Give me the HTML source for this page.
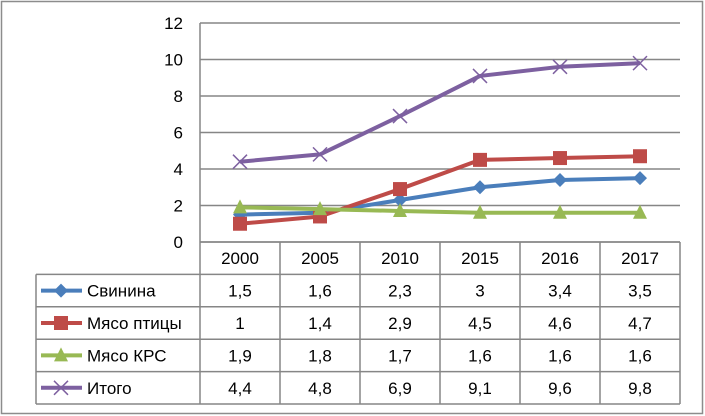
<!DOCTYPE html>
<html><head><meta charset="utf-8"><style>
body{margin:0;background:#fff;}
svg{display:block;font-family:"Liberation Sans",sans-serif;}
</style></head><body>
<svg width="705" height="416">
<rect x="1.5" y="1.5" width="701" height="412" fill="#fff" stroke="#8c8c8c" stroke-width="1.5"/>
<g id="grid"></g><g id="axes"></g><g id="table"></g><g id="series"></g>
</svg>
<script>
const categories=["2000","2005","2010","2015","2016","2017"];
const seriesNames=["Свинина","Мясо птицы","Мясо КРС","Итого"];
const svinina=[1.5,1.6,2.3,3,3.4,3.5];
const ptica=[1,1.4,2.9,4.5,4.6,4.7];
const krs=[1.9,1.8,1.7,1.6,1.6,1.6];
const itogo=[4.4,4.8,6.9,9.1,9.6,9.8];
const yTicks=[0,2,4,6,8,10,12];
const allSeries=[svinina,ptica,krs,itogo];
const colors=["#4a7ebb","#be4b48","#98b954","#7d60a0"];
const markers=["diamond","square","triangle","x"];
const NS="http://www.w3.org/2000/svg";
const L=200,R=680,T=23,B=242;
const colW=(R-L)/categories.length;
function xs(i){return L+colW*(i+0.5);}
function ys(v){return B-(v/12)*(B-T);}
function mk(tag,a,p){const e=document.createElementNS(NS,tag);for(const k in a)e.setAttribute(k,a[k]);p.appendChild(e);return e;}
const grid=document.getElementById('grid');
yTicks.forEach(t=>{
 const l=mk('line',{x1:L,x2:R,y1:ys(t),y2:ys(t),stroke:'#868686','stroke-width':1.5},grid);
 
 
 const tx=mk('text',{x:183,y:ys(t)+6,'text-anchor':'end','font-size':17,fill:'#000'},grid);
 tx.textContent=t;
 
 
});
const axes=document.getElementById('axes');
const ya=mk('line',{x1:L,x2:L,y1:T,y2:B,stroke:'#868686','stroke-width':1.5},axes);


const tb=document.getElementById('table');
const rowH=32.4, tL=36;
const tBot=B+rowH*5;
// horizontal lines
for(let r=0;r<=5;r++){
 const y=B+rowH*r;
 const l=mk('line',{x1:r==0?L:tL,x2:R,y1:y,y2:y,stroke:'#868686','stroke-width':1.5},tb);
 
 
}
for(let c=0;c<=categories.length;c++){
 const x=L+colW*c;
 const l=mk('line',{x1:x,x2:x,y1:B,y2:tBot,stroke:'#868686','stroke-width':1.5},tb);
 
 
}
const lt=mk('line',{x1:tL,x2:tL,y1:B+rowH,y2:tBot,stroke:'#868686','stroke-width':1.5},tb);


categories.forEach((c,i)=>{
 const t=mk('text',{x:xs(i),y:B+rowH/2+6,'text-anchor':'middle','font-size':17},tb);
 t.textContent=c;
 
 
});
function marker(type,cx,cy,col,p){
 let e;
 if(type=='diamond')e=mk('polygon',{points:`${cx},${cy-7} ${cx+7},${cy} ${cx},${cy+7} ${cx-7},${cy}`,fill:col},p);
 else if(type=='square')e=mk('rect',{x:cx-7,y:cy-7,width:14,height:14,fill:col},p);
 else if(type=='triangle')e=mk('polygon',{points:`${cx},${cy-8} ${cx+7},${cy+6} ${cx-7},${cy+6}`,fill:col},p);
 else e=mk('path',{d:`M${cx-7},${cy-7}L${cx+7},${cy+7}M${cx+7},${cy-7}L${cx-7},${cy+7}`,stroke:col,'stroke-width':1.5,fill:'none'},p);
 return e;
}
const sg=document.getElementById('series');
allSeries.forEach((vals,s)=>{
 const pts=vals.map((v,i)=>xs(i)+','+ys(v)).join(' ');
 const pl=mk('polyline',{points:pts,fill:'none',stroke:colors[s],'stroke-width':4,'stroke-linejoin':'round'},sg);
 
 
 vals.forEach((v,i)=>{
  const m=marker(markers[s],xs(i),ys(v),colors[s],sg);
  
  
 });
 const ry=B+rowH*(s+1)+rowH/2;
 const ll=mk('line',{x1:41,x2:82,y1:ry,y2:ry,stroke:colors[s],'stroke-width':4},tb);
 
 
 const lm=marker(markers[s],61,ry,colors[s],tb);
 
 
 const nt=mk('text',{x:87,y:ry+6,'font-size':17},tb);
 nt.textContent=seriesNames[s];
 
 
 vals.forEach((v,i)=>{
  const t=mk('text',{x:xs(i),y:ry+6,'text-anchor':'middle','font-size':17},tb);
  t.textContent=String(v).replace('.',',');
  
  
 });
});
</script>
</body></html>
